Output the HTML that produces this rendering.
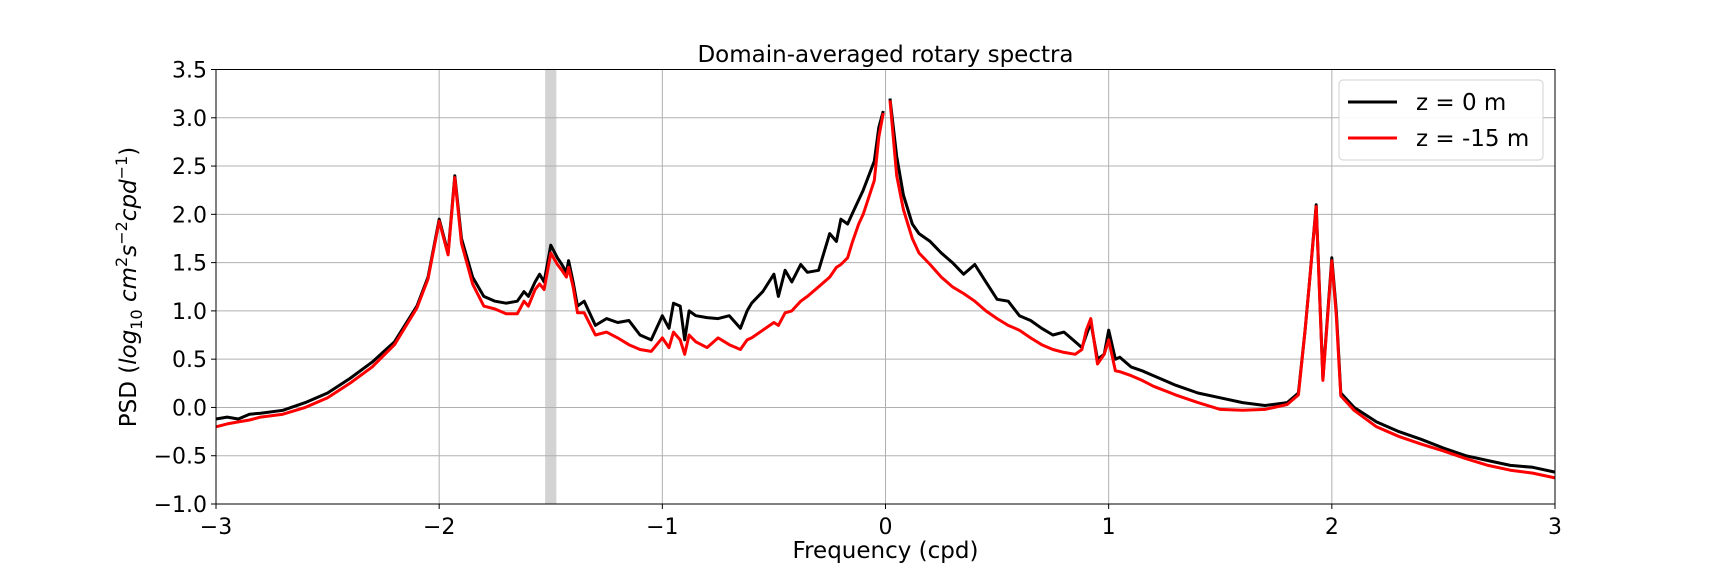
<!DOCTYPE html>
<html><head><meta charset="utf-8"><style>
body{margin:0;background:#fff}
svg{display:block;font-family:"DejaVu Sans","Liberation Sans",sans-serif}
</style></head><body>
<svg id="c" width="1728" height="576"></svg>
<script>
const freq=[-3,-2.95,-2.9,-2.85,-2.8,-2.7,-2.6,-2.5,-2.4,-2.3,-2.2,-2.1,-2.05,-2,-1.96,-1.93,-1.9,-1.85,-1.8,-1.75,-1.7,-1.65,-1.62,-1.6,-1.57,-1.55,-1.53,-1.5,-1.47,-1.45,-1.43,-1.42,-1.4,-1.38,-1.35,-1.3,-1.25,-1.2,-1.15,-1.1,-1.05,-1,-0.97,-0.95,-0.92,-0.9,-0.88,-0.85,-0.8,-0.75,-0.7,-0.65,-0.62,-0.6,-0.55,-0.5,-0.48,-0.45,-0.42,-0.38,-0.35,-0.3,-0.25,-0.22,-0.2,-0.17,-0.15,-0.12,-0.1,-0.05,-0.03,-0.01,0.02,0.05,0.08,0.12,0.15,0.2,0.25,0.3,0.35,0.4,0.45,0.5,0.55,0.6,0.65,0.7,0.75,0.8,0.85,0.88,0.9,0.92,0.95,0.98,1,1.03,1.05,1.1,1.15,1.2,1.3,1.4,1.5,1.6,1.7,1.8,1.85,1.88,1.9,1.93,1.96,2,2.02,2.04,2.1,2.2,2.3,2.4,2.5,2.6,2.7,2.8,2.9,3];
const psdSurface=[-0.12,-0.1,-0.12,-0.07,-0.06,-0.03,0.05,0.15,0.3,0.47,0.68,1.05,1.35,1.95,1.6,2.4,1.75,1.35,1.15,1.1,1.08,1.1,1.2,1.15,1.3,1.38,1.3,1.68,1.55,1.48,1.4,1.52,1.3,1.05,1.1,0.85,0.92,0.88,0.9,0.75,0.7,0.95,0.82,1.08,1.05,0.7,1.0,0.95,0.93,0.92,0.95,0.82,1.0,1.08,1.2,1.38,1.15,1.42,1.3,1.48,1.4,1.42,1.8,1.72,1.95,1.9,2.0,2.15,2.25,2.55,2.9,3.07,3.2,2.6,2.2,1.9,1.8,1.72,1.6,1.5,1.38,1.48,1.3,1.12,1.1,0.95,0.9,0.82,0.75,0.78,0.68,0.62,0.75,0.88,0.5,0.55,0.8,0.5,0.52,0.42,0.38,0.33,0.23,0.15,0.1,0.05,0.02,0.05,0.15,0.8,1.3,2.1,0.3,1.55,1.0,0.15,0.0,-0.15,-0.25,-0.33,-0.42,-0.5,-0.55,-0.6,-0.62,-0.67];
const psd15m=[-0.2,-0.17,-0.15,-0.13,-0.1,-0.07,0.0,0.1,0.25,0.42,0.65,1.03,1.33,1.93,1.58,2.38,1.7,1.28,1.05,1.02,0.97,0.97,1.1,1.05,1.22,1.28,1.22,1.6,1.48,1.42,1.35,1.45,1.25,0.98,0.98,0.75,0.78,0.72,0.65,0.6,0.58,0.72,0.62,0.78,0.7,0.55,0.75,0.68,0.62,0.72,0.65,0.6,0.7,0.72,0.8,0.88,0.85,0.98,1.0,1.1,1.15,1.25,1.35,1.45,1.48,1.55,1.7,1.9,2.0,2.35,2.8,3.05,3.18,2.4,2.05,1.75,1.6,1.48,1.35,1.25,1.18,1.1,1.0,0.92,0.85,0.8,0.72,0.65,0.6,0.57,0.55,0.6,0.8,0.92,0.45,0.55,0.7,0.38,0.37,0.33,0.28,0.22,0.13,0.05,-0.02,-0.03,-0.02,0.03,0.13,0.8,1.3,2.08,0.28,1.52,0.95,0.12,-0.03,-0.2,-0.3,-0.38,-0.45,-0.53,-0.6,-0.65,-0.68,-0.73];
const xTicks=[-3,-2,-1,0,1,2,3];
const xTickLabels=["\u22123","\u22122","\u22121","0","1","2","3"];
const yTicks=[-1,-0.5,0,0.5,1,1.5,2,2.5,3,3.5];
const yTickLabels=["\u22121.0","\u22120.5","0.0","0.5","1.0","1.5","2.0","2.5","3.0","3.5"];
const band=[-1.525,-1.475];

const L=216,R=1555,T=69.5,B=504;
const X=f=>L+(f+3)/6*(R-L);
const Y=v=>B-(v+1)/4.5*(B-T);
const svg=document.getElementById('c');
const NS='http://www.w3.org/2000/svg';
function mk(tag,attrs,parent){const e=document.createElementNS(NS,tag);for(const k in attrs)e.setAttribute(k,attrs[k]);(parent||svg).appendChild(e);return e;}

let e=mk('rect',{x:X(band[0]),y:T,width:X(band[1])-X(band[0]),height:B-T,fill:'#d3d3d3'});


xTicks.forEach((t,i)=>{
  let g=mk('line',{x1:X(t),x2:X(t),y1:T,y2:B,stroke:'#b0b0b0','stroke-width':1});
  
  
  mk('line',{x1:X(t),x2:X(t),y1:B,y2:B+5,stroke:'#000','stroke-width':1});
  let tx=mk('text',{x:X(t),y:B+30,'text-anchor':'middle','font-size':22});
  tx.textContent=xTickLabels[i];
  
  
});
yTicks.forEach((t,i)=>{
  let g=mk('line',{x1:L,x2:R,y1:Y(t),y2:Y(t),stroke:'#b0b0b0','stroke-width':1});
  
  
  mk('line',{x1:L-5,x2:L,y1:Y(t),y2:Y(t),stroke:'#000','stroke-width':1});
  let tx=mk('text',{x:L-9,y:Y(t)+8,'text-anchor':'end','font-size':22});
  tx.textContent=yTickLabels[i];
  
  
});
function series(vals,color,name){
  const segs=[[],[]];
  freq.forEach((f,i)=>{segs[f<0?0:1].push(X(f).toFixed(1)+','+Y(vals[i]).toFixed(1));});
  segs.forEach(s=>{
    let p=mk('polyline',{points:s.join(' '),fill:'none',stroke:color,'stroke-width':3,'stroke-linejoin':'round'});
    
    
  });
}
series(psdSurface,'#000','series-z-0m');
series(psd15m,'#ff0000','series-z-minus-15m');
e=mk('rect',{x:L,y:T,width:R-L,height:B-T,fill:'none',stroke:'#000','stroke-width':1});



e=mk('text',{x:(L+R)/2,y:62,'text-anchor':'middle','font-size':23});
e.textContent='Domain-averaged rotary spectra';


e=mk('text',{x:(L+R)/2,y:558,'text-anchor':'middle','font-size':23});
e.textContent='Frequency (cpd)';


e=mk('text',{x:0,y:0,'text-anchor':'middle','font-size':23,transform:'translate(136,287) rotate(-90)'});
e.innerHTML='PSD (<tspan font-style="italic">log</tspan><tspan font-size="16" dy="6">10</tspan><tspan dy="-6" font-style="italic"> cm</tspan><tspan font-size="16" dy="-9">2</tspan><tspan dy="9" font-style="italic">s</tspan><tspan font-size="16" dy="-9">\u22122</tspan><tspan dy="9" font-style="italic">cpd</tspan><tspan font-size="16" dy="-9">\u22121</tspan><tspan dy="9">)</tspan>';



const lg=mk('g',{});


mk('rect',{x:1339,y:80,width:204,height:80,rx:4,fill:'#fff',stroke:'#ccc','stroke-width':1,opacity:0.9},lg);
[['z = 0 m','#000',102],['z = -15 m','#ff0000',138]].forEach(([t,c,y])=>{
  let ln=mk('line',{x1:1348,x2:1397,y1:y,y2:y,stroke:c,'stroke-width':3},lg);
  
  
  let tx=mk('text',{x:1416,y:y+8,'font-size':23},lg);
  tx.textContent=t;
  
  
});
</script>
</body></html>
